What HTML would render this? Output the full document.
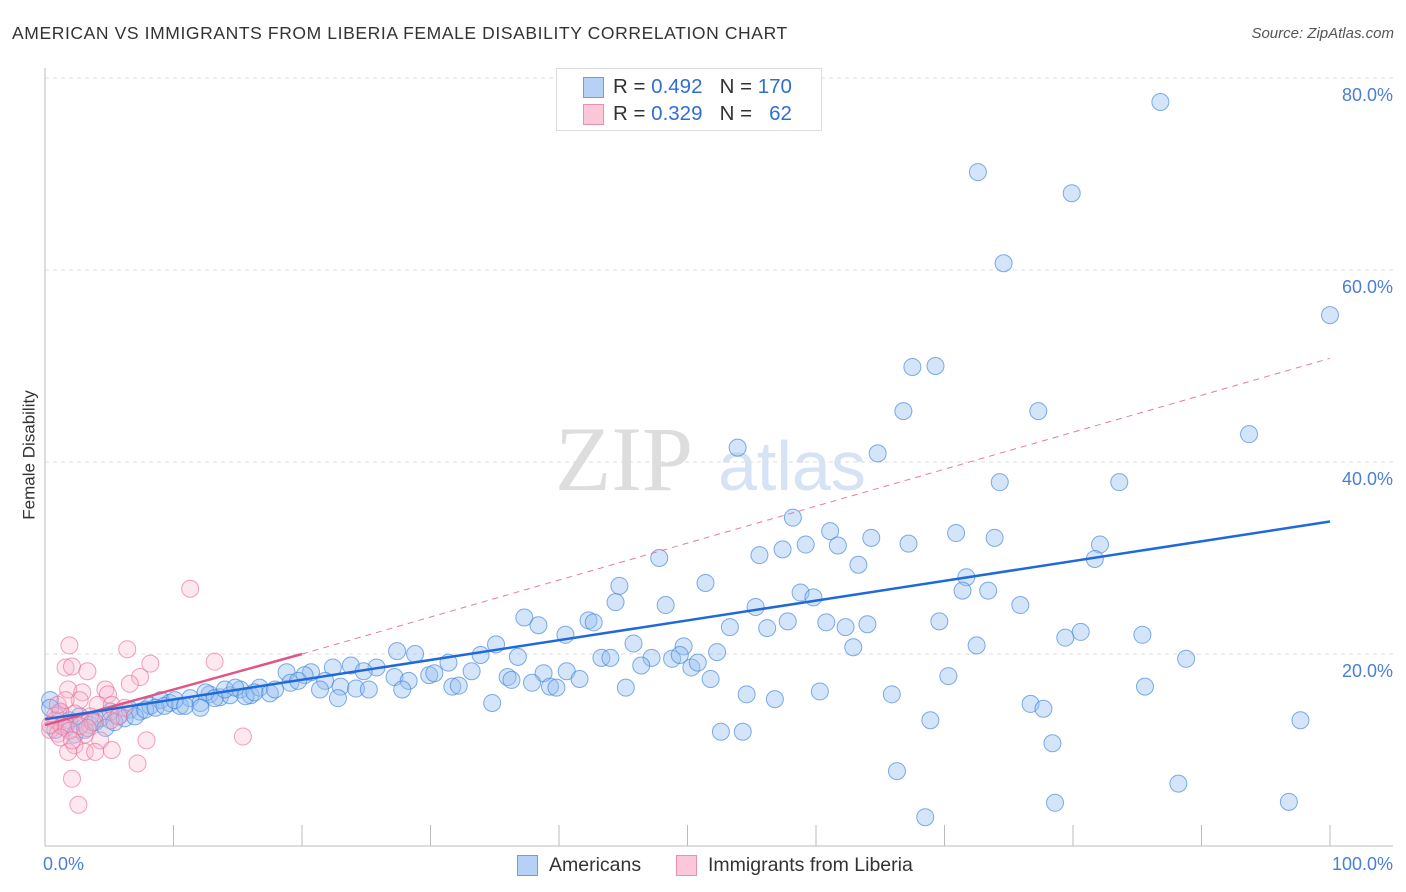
<!DOCTYPE html>
<html><head><meta charset="utf-8"><style>
body{margin:0;background:#fff;font-family:"Liberation Sans",sans-serif;}
#wrap{position:relative;width:1406px;height:892px;overflow:hidden}
.t{position:absolute;white-space:nowrap}
</style></head><body><div id="wrap">
<div class="t" style="left:12px;top:23px;font-size:17.5px;color:#333;letter-spacing:0.6px">AMERICAN VS IMMIGRANTS FROM LIBERIA FEMALE DISABILITY CORRELATION CHART</div>
<div class="t" style="right:12px;top:25px;font-size:15px;color:#555;font-style:italic">Source: ZipAtlas.com</div>
<div class="t" style="left:-35px;top:445px;font-size:17px;color:#333;transform:rotate(-90deg)">Female Disability</div>
<svg id="svg" width="1406" height="892" style="position:absolute;left:0;top:0"></svg>
</div>
<script>
const yTicks=[20,40,60,80];
const yTickLabels=["20.0%","40.0%","60.0%","80.0%"];
const xEndLabels=["0.0%","100.0%"];
const amX=[86.8,72.6,79.9,74.6,100,67.5,69.3,66.8,77.3,93.7,53.9,64.8,74.3,83.6,58.2,61.1,70.9,64.3,73.9,82.1,59.2,61.7,67.2,57.4,55.6,47.8,81.7,63.3,71.7,51.4,44.7,58.8,59.8,71.4,73.4,44.4,48.3,75.9,55.3,37.3,42.3,42.7,38.4,57.8,60.8,64.0,69.6,56.2,53.3,62.3,80.6,85.4,40.5,79.4,45.8,35.1,49.7,62.9,72.5,33.9,36.8,27.4,28.8,43.3,44.0,47.2,48.8,49.4,52.3,88.8,46.4,50.3,50.8,31.4,22.4,23.8,25.8,24.8,18.8,20.7,33.2,40.6,20.2,27.2,29.9,30.3,36.0,38.8,70.3,28.3,36.3,41.6,51.8,21.8,19.1,19.7,31.7,32.2,37.9,23.0,24.2,25.2,21.4,27.8,39.3,39.8,45.2,85.6,60.3,54.6,65.9,56.8,22.8,34.8,76.7,77.7,68.9,97.7,52.6,54.3,78.4,66.3,88.2,78.6,96.8,68.5,
0.4,1.2,1.9,2.7,3.5,4.3,5.1,5.8,6.6,7.4,8.2,9.0,9.7,10.5,11.3,12.1,12.8,13.6,14.4,15.2,16.0,16.7,17.5,17.9,0.8,1.6,2.3,3.1,3.9,4.7,5.4,6.2,7.0,7.8,8.6,9.3,10.1,10.9,12.5,13.2,14.0,14.8,15.6,16.3,12.1,0.4];
const amY=[77.5,70.2,68.0,60.7,55.3,49.9,50.0,45.3,45.3,42.9,41.5,40.9,37.9,37.9,34.2,32.8,32.6,32.1,32.1,31.4,31.4,31.3,31.5,30.9,30.3,30.0,29.9,29.3,28.0,27.4,27.1,26.4,25.9,26.6,26.6,25.4,25.1,25.1,24.9,23.8,23.5,23.3,23.0,23.4,23.3,23.1,23.4,22.7,22.8,22.8,22.3,22.0,22.0,21.7,21.1,21.0,20.8,20.7,20.9,19.9,19.7,20.3,20.0,19.6,19.6,19.6,19.5,19.9,20.2,19.5,18.8,18.6,19.1,19.1,18.6,18.8,18.6,18.2,18.1,18.1,18.2,18.2,17.8,17.6,17.8,18.0,17.6,18.0,17.7,17.2,17.3,17.4,17.4,17.2,17.0,17.2,16.6,16.7,17.0,16.6,16.4,16.3,16.3,16.3,16.6,16.5,16.5,16.6,16.1,15.8,15.8,15.3,15.4,14.9,14.8,14.3,13.1,13.1,11.9,11.9,10.7,7.8,6.5,4.5,4.6,3.0,
15.2,14.0,13.1,13.5,12.6,13.3,14.0,13.6,14.2,14.0,14.6,15.2,14.9,14.6,15.4,14.9,15.8,15.5,15.7,16.3,15.7,16.5,15.9,16.3,12.1,12.3,11.6,12.1,12.9,12.3,12.9,13.3,13.5,14.2,14.4,14.6,15.2,14.6,16.0,15.4,16.3,16.5,15.6,16.0,14.4,14.4];
const liX=[1.9,1.6,2.1,3.3,6.4,8.2,13.2,11.3,7.4,6.6,1.8,2.9,4.7,4.9,2.7,4.1,5.2,6.2,1.2,2.3,3.5,0.8,1.6,0.4,1.0,3.1,4.3,2.3,1.8,3.1,3.9,5.2,7.9,7.2,15.4,2.1,2.6,0.8,1.3,1.9,2.7,3.7,0.4,1.2,2.1,3.3,5.1,5.7,1.0,1.6];
const liY=[20.9,18.6,18.7,18.2,20.5,19.0,19.2,26.8,17.6,16.9,16.3,16.0,16.3,15.8,15.2,14.7,14.7,14.4,14.0,13.8,13.5,13.1,12.7,12.1,11.7,11.6,11.0,10.5,9.8,9.8,9.8,10.0,11.0,8.6,11.4,7.0,4.3,13.6,12.5,12.0,12.5,12.9,12.6,11.3,11.0,12.3,13.1,13.5,14.7,15.2];
const amLine=[[0,13.2],[100,33.8]];
const liLine=[[0,12.6],[20,20.0]];
const liDash=[[20,20.0],[100,50.8]];

const X=v=>45+v*12.85, Y=v=>846-v*9.6;
const S=document.getElementById('svg'),NS='http://www.w3.org/2000/svg';
function mk(tag,a,p){const e=document.createElementNS(NS,tag);for(const k in a)e.setAttribute(k,a[k]);(p||S).appendChild(e);return e;}
let w=mk('text',{x:555,y:490,'font-size':92,'font-family':'Liberation Serif,serif',fill:'#ddd'});w.textContent='ZIP';


let w2=mk('text',{x:718,y:490,'font-size':70,'font-family':'Liberation Sans,sans-serif',fill:'#d5e3f5'});w2.textContent='atlas';


yTicks.forEach((t,i)=>{
 const g=mk('line',{x1:45,x2:1393,y1:Y(t),y2:Y(t),stroke:'#ddd','stroke-dasharray':'4,4'});
 
 
 const l=mk('text',{x:1393,y:Y(t)+23,'text-anchor':'end','font-size':18,fill:'#4a7fd6','font-family':'Liberation Sans,sans-serif'});l.textContent=yTickLabels[i];
 
 
});
mk('line',{x1:45,x2:45,y1:68,y2:846,stroke:'#bbb'});
mk('line',{x1:45,x2:1393,y1:846,y2:846,stroke:'#bbb'});
for(let i=0;i<=10;i++){const t=mk('line',{x1:X(i*10),x2:X(i*10),y1:825,y2:846,stroke:'#bbb'});
 
 }
[[X(0)-2,'start',0],[1393,'end',1]].forEach(([x,a,i])=>{const l=mk('text',{x:x,y:870,'text-anchor':a,'font-size':18,fill:'#4a7fd6','font-family':'Liberation Sans,sans-serif'});l.textContent=xEndLabels[i];
 
 });
function dots(xs,ys,fill,stroke,name){xs.forEach((x,i)=>{const c=mk('circle',{cx:X(x),cy:Y(ys[i]),r:8.5,fill:fill,stroke:stroke,'stroke-width':1});
 
 });}
dots(amX,amY,'rgba(150,190,240,0.4)','rgba(60,130,220,0.65)','americans-point');
dots(liX,liY,'rgba(248,180,205,0.3)','rgba(235,110,150,0.65)','liberia-point');
let l1=mk('line',{x1:X(liDash[0][0]),y1:Y(liDash[0][1]),x2:X(liDash[1][0]),y2:Y(liDash[1][1]),stroke:'#e87aa0','stroke-width':1,'stroke-dasharray':'6,5'});


let l2=mk('line',{x1:X(liLine[0][0]),y1:Y(liLine[0][1]),x2:X(liLine[1][0]),y2:Y(liLine[1][1]),stroke:'#e05585','stroke-width':2.5});


let l3=mk('line',{x1:X(amLine[0][0]),y1:Y(amLine[0][1]),x2:X(amLine[1][0]),y2:Y(amLine[1][1]),stroke:'#1f6ad8','stroke-width':2.5});


</script>
<div style="position:absolute;left:556px;top:68px;width:264px;height:61px;border:1px solid #ddd;background:#fff;font-size:20.5px;color:#333">
 <div style="position:absolute;left:26px;top:8px;width:19px;height:19px;background:#b7d1f6;border:1px solid #6a9ee6"></div>
 <div class="t" style="left:56px;top:6px">R = <span style="color:#2f6fd3">0.492</span>&nbsp;&nbsp;&nbsp;N = <span style="color:#2f6fd3">170</span></div>
 <div style="position:absolute;left:26px;top:35px;width:19px;height:19px;background:#fbc8d8;border:1px solid #ea8fb0"></div>
 <div class="t" style="left:56px;top:33px">R = <span style="color:#2f6fd3">0.329</span>&nbsp;&nbsp;&nbsp;N = &nbsp;&nbsp;<span style="color:#2f6fd3">62</span></div>
</div>
<div style="position:absolute;left:517px;top:854px;font-size:19.5px;color:#333">
 <div style="position:absolute;left:0;top:1px;width:19px;height:19px;background:#b7d1f6;border:1px solid #6a9ee6"></div>
 <div class="t" style="left:32px;top:0">Americans</div></div>
<div style="position:absolute;left:676px;top:854px;font-size:19.5px;color:#333">
 <div style="position:absolute;left:0;top:1px;width:19px;height:19px;background:#fbc8d8;border:1px solid #ea8fb0"></div>
 <div class="t" style="left:32px;top:0">Immigrants from Liberia</div></div>
</body></html>
